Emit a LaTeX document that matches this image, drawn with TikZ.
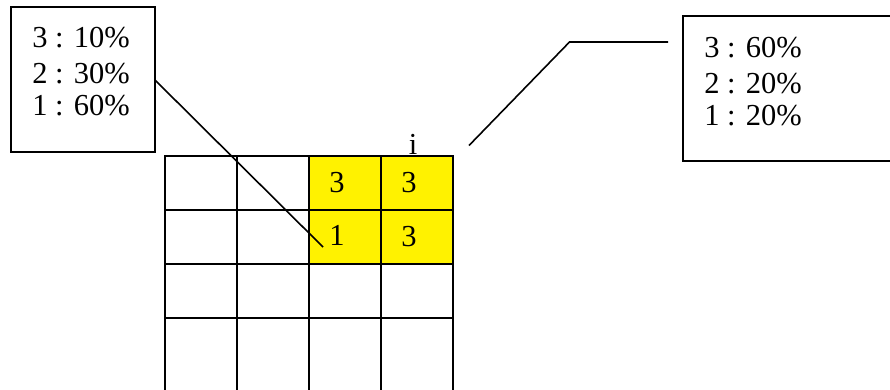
\documentclass[tikz,border=0pt]{standalone}
\usepackage{fontspec}
\setmainfont{Liberation Serif}
\usepackage{xcolor}
\usetikzlibrary{arrows.meta,positioning}

\tikzset{
  cell/.style={draw,line width=1.8pt,inner sep=0pt,outer sep=0pt,minimum width=72pt,anchor=north west},
  hot/.style={fill=yellow},
  probbox/.style={draw,line width=1.8pt,inner sep=0pt,outer sep=0pt,anchor=north west},
  big/.style={font=\fontsize{30.5}{32}\selectfont,inner sep=0pt}
}

\begin{document}
\begin{tikzpicture}[x=1pt,y=-1pt,>=stealth]
\useasboundingbox (0,0) rectangle (890,389);
\clip (0,0) rectangle (890,389);
% the grid
\foreach \r in {0,1,2}
  \foreach \c in {0,1,2,3}
    \node[cell,minimum height=54pt](c\r\c) at (165+72*\c,156+54*\r){};
\foreach \c in {0,1,2,3}
  \node[cell,minimum height=90pt](c3\c) at (165+72*\c,318){};
\node[cell,hot,minimum height=54pt](c02) at (309,156){};
\node[cell,hot,minimum height=54pt](c03) at (381,156){};
\node[cell,hot,minimum height=54pt](c12) at (309,210){};
\node[cell,hot,minimum height=54pt](c13) at (381,210){};
\node[big](n02) at ([xshift=-8pt]c02.center){3};
\node[big](n03) at ([xshift=-8pt]c03.center){3};
\node[big](n12) at ([xshift=-8pt,yshift=2pt]c12.center){1};
\node[big](n13) at ([xshift=-8pt]c13.center){3};
\node[big,anchor=base](lbl) at (413,154.5){i};

% the two boxes
\node[probbox,minimum width=144pt,minimum height=145pt](lbox) at (11,7){};
\node[big,anchor=base](l1) at (81,47){3 : 10\%};
\node[big,anchor=base](l2) at (81,83){2 : 30\%};
\node[big,anchor=base](l3) at (81,115){1 : 60\%};
\node[probbox,minimum width=230pt,minimum height=145pt](rbox) at (683,16){};
\node[big,anchor=base](r1) at (753,57){3 : 60\%};
\node[big,anchor=base](r2) at (753,93){2 : 20\%};
\node[big,anchor=base](r3) at (753,125){1 : 20\%};

% leader lines
\coordinate(lstart) at (155,80);
\coordinate(lend) at (323,247);
\coordinate(rstart) at (469,145.5);
\coordinate(rbend) at (569.5,42);
\coordinate(rend) at (668,42);
\draw[line width=1.6pt](lstart)--(lend);
\draw[line width=1.6pt](rstart)--(rbend)--(rend);
\end{tikzpicture}
\end{document}
